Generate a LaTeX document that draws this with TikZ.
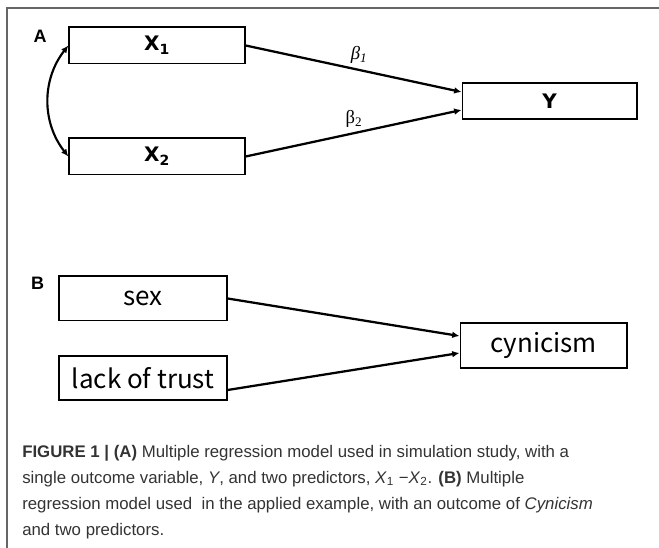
\documentclass[tikz,border=0pt]{standalone}
\usepackage{fontspec}
\setmainfont{Liberation Sans}
\newfontfamily\boxfont{DejaVu Sans}
\newfontfamily\cjkfont{Noto Sans CJK SC}
\newfontfamily\grkfont{Liberation Serif}
\usetikzlibrary{arrows.meta,calc}
\begin{document}
\begin{tikzpicture}[x=0.75pt,y=-0.75pt,
  boxA/.style={draw, line width=1pt, inner sep=0pt, minimum width=132pt, minimum height=27.5pt, font=\boxfont\bfseries\fontsize{15}{17}\selectfont},
  boxB/.style={draw, line width=1pt, inner sep=0pt, minimum width=126pt, minimum height=33.5pt, font=\cjkfont\fontsize{19.5}{23}\selectfont},
  arr/.style={line width=1.7pt, -{Latex[length=5.5pt,width=5pt]}},
  dbl/.style={line width=1.6pt, {Latex[length=5.5pt,width=5pt]}-{Latex[length=5.5pt,width=5pt]}},
  panel/.style={inner sep=0pt, font=\bfseries\fontsize{13.5}{16}\selectfont},
  coef/.style={inner sep=0pt, font=\grkfont\fontsize{14}{16}\selectfont},
  captxt/.style={anchor=base west, inner sep=0pt, text=black!80, font=\fontsize{12.6}{15}\selectfont}
]
\useasboundingbox (0,0) rectangle (659,548);
\draw[black!60, line width=1.2pt] (659,8) -- (7,8) -- (7,548);

% Panel A
\node[panel] (lA) at (40,36) {A};
\node[boxA] (X1) at (157,45.5) {X\textsubscript{1}};
\node[boxA] (X2) at (157,156.5) {X\textsubscript{2}};
\node[boxA, minimum width=131pt, minimum height=27pt] (Y) at (549.5,101) {Y};
\draw[arr] (X1.east) -- ($(Y.west)+(0,-9)$);
\draw[arr] (X2.east) -- ($(Y.west)+(0,9)$);
\draw[dbl] (X1.west) to[bend right=38] (X2.west);
\node[coef] (b1) at (359,55) {\itshape β\textsubscript{1}};
\node[coef] (b2) at (354,119) {β\textsubscript{2}};

% Panel B
\node[panel] (lB) at (37.5,283) {B};
\node[boxB] (sex) at (143,298.5) {sex};
\node[boxB, minimum height=33pt] (lot) at (143,378) {lack of trust};
\node[boxB, minimum width=125pt] (cyn) at (543.5,345.5) {cynicism};
\draw[arr] (sex.east) -- ($(cyn.west)+(0,-9.5)$);
\draw[arr] ($(lot.east)+(0,12)$) -- ($(cyn.west)+(0,7.5)$);

% Caption
\node[captxt] (c1) at (22,457) {\textbf{FIGURE 1 | (A)} Multiple regression model used in simulation study, with a};
\node[captxt] (c2) at (22,483) {single outcome variable, \textit{Y}, and two predictors, \textit{X}\textsubscript{1} −\textit{X}\textsubscript{2}. \textbf{(B)} Multiple};
\node[captxt] (c3) at (22,509) {regression model used\ \ in the applied example, with an outcome of \textit{Cynicism}};
\node[captxt] (c4) at (22,535) {and two predictors.};
\end{tikzpicture}
\end{document}
